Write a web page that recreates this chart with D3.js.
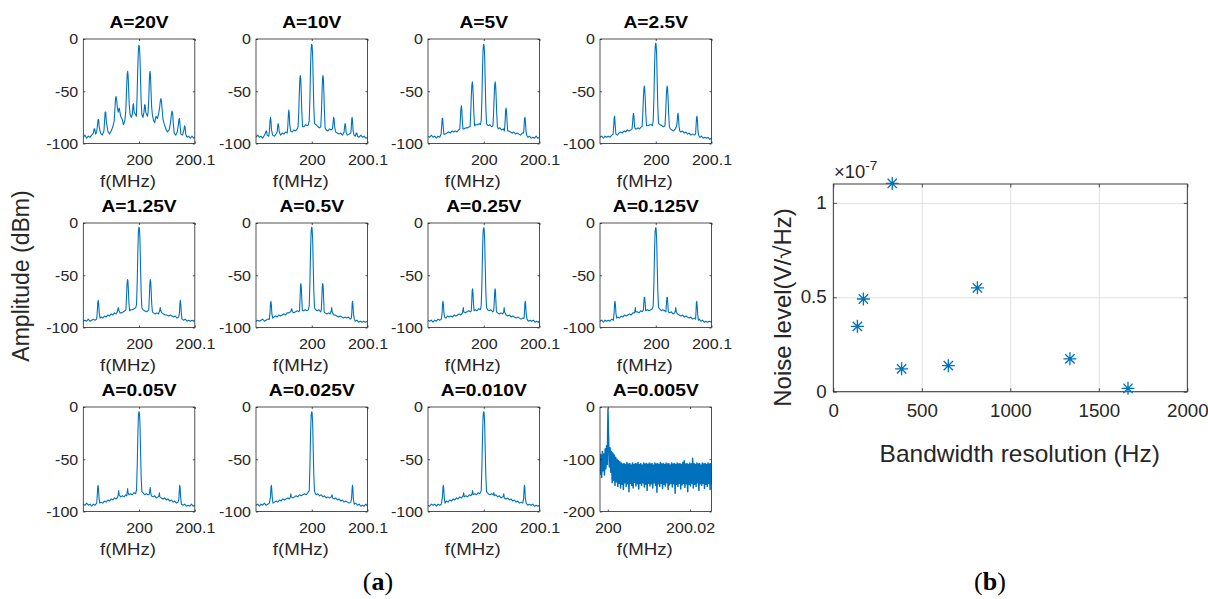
<!DOCTYPE html>
<html>
<head>
<meta charset="utf-8">
<script src="https://cdn.jsdelivr.net/npm/d3@7"></script>
<style>
  body { margin: 0; background: #fff; }
  svg text { font-family: "Liberation Sans", Arial, sans-serif; }
</style>
</head>
<body>
<svg id="drawing_region" width="1208" height="599"></svg>
<script>
// ---- data ----
const panelTitles = ['A=20V', 'A=10V', 'A=5V', 'A=2.5V', 'A=1.25V', 'A=0.5V',
                     'A=0.25V', 'A=0.125V', 'A=0.05V', 'A=0.025V', 'A=0.010V', 'A=0.005V'];

// spectra: [offset from 200 MHz in kHz, amplitude in dBm]
const spec20V = [[-100,-94],[-97,-92],[-94,-95],[-91,-93],[-88,-94],[-85,-92],[-82,-90],[-80.5,-86],[-79.5,-86],[-78,-91],[-76,-89],[-74.5,-82],[-73.5,-77],[-72.5,-77],[-71.5,-84],[-69,-90],[-66,-92],[-63,-88],[-61.8,-78],[-60.8,-70],[-59.8,-70],[-58.6,-79],[-56,-88],[-53,-91],[-50,-88],[-47,-84],[-44.5,-78],[-43.2,-66],[-42.2,-57],[-41.2,-55],[-40.2,-58],[-39,-65],[-37.5,-70],[-35.5,-66],[-33,-74],[-30,-77],[-28,-82],[-25.5,-78],[-24,-70],[-23,-58],[-22,-42],[-21.1,-33],[-20.4,-31],[-19.6,-35],[-18.7,-48],[-17.6,-63],[-16,-72],[-14,-75],[-12,-72],[-10.8,-63],[-10,-62],[-8.8,-70],[-6.5,-72],[-4.8,-74],[-3.5,-55],[-2.4,-30],[-1.3,-12],[-0.4,-6],[0.5,-7],[1.5,-15],[2.5,-35],[3.6,-58],[5,-72],[7,-75],[8.8,-70],[10,-63],[10.8,-63],[12,-70],[15,-74],[16.2,-70],[17.4,-58],[18.3,-42],[19.1,-33],[19.8,-31],[20.6,-36],[21.5,-50],[22.6,-65],[24,-73],[26,-78],[28,-80],[30.5,-74],[33,-76],[35,-72],[37,-65],[38.2,-59],[39.2,-57],[40.3,-60],[41.5,-68],[43,-77],[45,-81],[48,-86],[51,-89],[54,-87],[56.5,-80],[58,-72],[59.2,-69],[60.2,-71],[61.5,-81],[63,-90],[66,-92],[68.5,-89],[70.5,-82],[71.5,-77],[72.5,-76],[73.5,-82],[75,-91],[78,-92],[80.5,-87],[81.5,-83],[82.5,-84],[83.8,-91],[86,-94],[89,-93],[92,-95],[95,-93],[98,-95],[100,-94]];
const spec10V = [[-100,-94],[-97,-92],[-94,-94],[-91,-93],[-88,-95],[-85,-92],[-83,-90],[-82,-88],[-81,-88],[-80,-92],[-77,-93],[-75.8,-87],[-74.8,-78],[-74,-75],[-73.2,-78],[-72.2,-87],[-70,-92],[-67,-93],[-64,-91],[-62,-89],[-61,-83],[-60.2,-81],[-59.4,-83],[-58.3,-89],[-56,-92],[-53,-90],[-50,-91],[-47,-89],[-44,-90],[-43,-84],[-42,-73],[-41.2,-68],[-40.4,-71],[-39.4,-82],[-38,-88],[-35,-89],[-32,-87],[-29,-88],[-26,-86],[-24.5,-84],[-23.3,-70],[-22.3,-52],[-21.3,-38],[-20.5,-35],[-19.7,-38],[-18.8,-52],[-17.8,-70],[-16.5,-84],[-14,-84],[-11,-82],[-8,-83],[-6,-82],[-4.5,-78],[-3.2,-55],[-2.2,-28],[-1.2,-10],[-0.3,-5],[0.6,-6],[1.6,-16],[2.6,-40],[3.7,-65],[5,-81],[8,-82],[11,-84],[14,-85],[16.2,-84],[17.4,-70],[18.4,-52],[19.3,-38],[20.1,-35],[20.9,-38],[21.8,-52],[22.8,-70],[24,-85],[26,-87],[29,-88],[32,-86],[35,-87],[37,-86],[38.3,-80],[39.2,-75],[40,-76],[41,-84],[43,-89],[46,-90],[49,-91],[52,-90],[55,-92],[58,-89],[59.1,-83],[59.9,-81],[60.7,-83],[61.8,-90],[64,-92],[67,-91],[70,-90],[70.8,-86],[71.7,-77],[72.4,-75],[73.2,-79],[74.2,-88],[76,-92],[78,-93],[80,-90],[81,-90],[82,-93],[85,-94],[88,-92],[91,-94],[94,-93],[97,-95],[100,-94]];
const spec5V = [[-100,-93],[-97,-94],[-94,-92],[-91,-94],[-88,-93],[-85,-95],[-82,-93],[-79,-94],[-76.5,-91],[-75.3,-82],[-74.5,-76],[-73.7,-76],[-72.8,-83],[-71.5,-91],[-69,-91],[-66,-90],[-63,-89],[-60,-90],[-57,-88],[-54,-89],[-51,-88],[-48,-89],[-45,-87],[-43,-86],[-42,-78],[-41,-67],[-40.2,-64],[-39.4,-67],[-38.4,-78],[-37.2,-86],[-35,-86],[-32,-85],[-29,-85],[-26,-84],[-24.5,-84],[-23.3,-70],[-22.3,-55],[-21.3,-44],[-20.5,-41],[-19.7,-44],[-18.8,-55],[-17.8,-70],[-16.5,-83],[-14,-82],[-11,-82],[-8,-81],[-6,-82],[-4.5,-78],[-3.2,-55],[-2.2,-28],[-1.2,-10],[-0.3,-5],[0.6,-6],[1.6,-16],[2.6,-40],[3.7,-65],[5,-81],[8,-83],[11,-82],[14,-84],[16.5,-83],[17.7,-70],[18.7,-55],[19.7,-44],[20.5,-41],[21.3,-44],[22.2,-55],[23.2,-70],[24.5,-84],[26,-86],[29,-85],[32,-87],[35,-86],[37,-88],[38.2,-80],[39.2,-69],[40,-66],[40.8,-69],[41.8,-79],[43,-88],[45,-88],[48,-89],[51,-90],[54,-89],[57,-91],[60,-90],[63,-91],[66,-92],[69,-90],[71.5,-90],[72.4,-83],[73.2,-76],[74,-75],[74.8,-79],[75.8,-88],[77,-92],[79,-94],[82,-93],[85,-95],[88,-94],[91,-95],[94,-93],[97,-95],[100,-94]];
const spec2_5V = [[-100,-94],[-97,-93],[-94,-95],[-91,-93],[-88,-94],[-85,-93],[-82,-94],[-79,-92],[-76.5,-91],[-75.3,-82],[-74.5,-75],[-73.7,-74],[-72.8,-82],[-71.5,-91],[-69,-92],[-66,-90],[-63,-89],[-60,-90],[-57,-88],[-54,-89],[-51,-87],[-48,-88],[-45,-87],[-42.5,-86],[-41.5,-80],[-40.6,-73],[-39.8,-71],[-39,-75],[-38,-84],[-36.5,-86],[-34,-86],[-32,-85],[-29,-86],[-26,-84],[-24.5,-84],[-23.3,-72],[-22.3,-58],[-21.3,-48],[-20.5,-45],[-19.7,-48],[-18.8,-58],[-17.8,-72],[-16.5,-83],[-14,-83],[-11,-82],[-8,-82],[-6,-83],[-4.5,-78],[-3.2,-55],[-2.2,-28],[-1.2,-9],[-0.3,-4],[0.6,-5],[1.6,-15],[2.6,-40],[3.7,-65],[5,-81],[8,-82],[11,-83],[14,-84],[16.5,-83],[17.7,-72],[18.7,-58],[19.7,-48],[20.5,-45],[21.3,-48],[22.2,-58],[23.2,-72],[24.5,-84],[26,-86],[29,-87],[32,-88],[35,-86],[37,-84],[38.3,-80],[39.2,-73],[40,-71],[40.8,-75],[41.8,-84],[43,-88],[45,-89],[48,-88],[51,-90],[54,-89],[57,-91],[60,-90],[63,-92],[66,-91],[69,-92],[71.5,-91],[72.4,-82],[73.2,-75],[74,-74],[74.8,-78],[75.8,-88],[77,-92],[79,-94],[82,-93],[85,-95],[88,-94],[91,-95],[94,-94],[97,-96],[100,-95]];
const spec1_25V = [[-100,-94],[-97,-93],[-94,-94],[-91,-92],[-88,-94],[-85,-93],[-82,-92],[-79,-93],[-76,-92],[-74.8,-84],[-74,-76],[-73.2,-74],[-72.4,-77],[-71.4,-86],[-70,-91],[-68,-90],[-65,-91],[-62,-89],[-59,-90],[-56,-88],[-53,-89],[-50,-87],[-47,-88],[-44,-86],[-41,-87],[-39,-85],[-37.8,-82],[-37,-81],[-36,-84],[-34,-86],[-31,-86],[-28,-85],[-25,-84],[-23.5,-83],[-22.5,-70],[-21.6,-59],[-20.8,-54],[-20,-55],[-19.2,-63],[-18.2,-76],[-17,-84],[-15,-83],[-12,-83],[-9,-82],[-6,-81],[-4.5,-78],[-3.2,-55],[-2.2,-28],[-1.2,-9],[-0.3,-4],[0.6,-5],[1.6,-15],[2.6,-40],[3.7,-65],[5,-81],[7,-83],[10,-84],[13,-85],[16,-84],[17.4,-83],[18.4,-72],[19.3,-59],[20.1,-54],[20.9,-56],[21.8,-66],[22.8,-78],[24,-85],[26,-86],[29,-87],[32,-86],[35,-87],[37,-84],[38,-81],[39,-84],[41,-86],[44,-87],[47,-88],[50,-88],[53,-89],[56,-88],[59,-89],[62,-90],[65,-89],[68,-91],[71,-90],[72.5,-86],[73.3,-77],[74,-74],[74.8,-77],[75.8,-86],[77,-92],[80,-93],[83,-92],[86,-94],[89,-93],[92,-94],[95,-93],[98,-94],[100,-93]];
const spec0_5V = [[-100,-94],[-97,-93],[-94,-94],[-91,-93],[-88,-92],[-85,-94],[-82,-93],[-79,-92],[-76,-92],[-74.8,-85],[-74,-77],[-73.3,-75],[-72.5,-78],[-71.5,-87],[-70,-91],[-68,-90],[-65,-89],[-62,-90],[-59,-88],[-56,-89],[-53,-88],[-50,-87],[-47,-88],[-44,-86],[-41,-86],[-38,-85],[-36.8,-83],[-35.8,-82],[-34.8,-85],[-32,-86],[-29,-85],[-26,-84],[-23,-85],[-22,-84],[-21,-73],[-20.2,-61],[-19.5,-58],[-18.8,-61],[-17.9,-72],[-16.8,-84],[-15,-84],[-12,-83],[-9,-84],[-6,-83],[-4.5,-79],[-3.2,-55],[-2.2,-28],[-1.2,-9],[-0.3,-4],[0.6,-5],[1.6,-15],[2.6,-40],[3.7,-65],[5,-81],[7,-83],[10,-84],[13,-83],[16,-85],[17,-84],[18,-73],[18.9,-61],[19.7,-58],[20.5,-61],[21.3,-72],[22.3,-85],[24,-86],[27,-87],[30,-86],[33,-87],[35,-84],[35.8,-81],[36.6,-85],[39,-88],[42,-88],[45,-89],[48,-90],[51,-89],[54,-90],[57,-91],[60,-90],[63,-91],[66,-90],[69,-92],[71,-91],[71.8,-86],[72.5,-77],[73.2,-75],[74,-79],[75,-88],[76.5,-92],[78,-94],[81,-93],[84,-95],[87,-94],[90,-95],[93,-94],[96,-95],[100,-94]];
const spec0_25V = [[-100,-93],[-97,-94],[-94,-93],[-91,-95],[-88,-93],[-85,-94],[-82,-92],[-79,-93],[-76,-92],[-74.6,-85],[-73.8,-77],[-73.1,-75],[-72.3,-78],[-71.3,-87],[-70,-90],[-68,-91],[-65,-89],[-62,-90],[-59,-89],[-56,-90],[-53,-88],[-50,-89],[-47,-88],[-44,-87],[-41,-88],[-38,-86],[-37.3,-83],[-36.6,-81],[-35.8,-85],[-33,-86],[-30,-85],[-27,-84],[-24,-85],[-22.4,-84],[-21.5,-75],[-20.8,-65],[-20.1,-63],[-19.4,-66],[-18.5,-76],[-17.4,-84],[-15,-83],[-12,-84],[-9,-82],[-6,-83],[-4.5,-79],[-3.2,-55],[-2.2,-28],[-1.2,-9],[-0.3,-4.5],[0.6,-5],[1.6,-15],[2.6,-40],[3.7,-65],[5,-81],[7,-83],[10,-84],[13,-83],[16,-85],[17.8,-84],[18.8,-76],[19.6,-66],[20.3,-63],[21,-65],[21.8,-75],[22.8,-85],[25,-86],[28,-87],[31,-86],[34,-87],[35.8,-85],[36.6,-81],[37.4,-85],[40,-88],[43,-89],[46,-88],[49,-90],[52,-89],[55,-90],[58,-91],[61,-90],[64,-91],[67,-92],[70,-91],[72.3,-91],[73.1,-85],[73.8,-77],[74.5,-75],[75.2,-78],[76.2,-87],[77.5,-92],[80,-94],[83,-93],[86,-94],[89,-93],[92,-95],[95,-94],[98,-95],[100,-94]];
const spec0_125V = [[-100,-94],[-97,-93],[-94,-95],[-91,-93],[-88,-94],[-85,-93],[-82,-94],[-79,-92],[-76,-93],[-74.6,-85],[-73.8,-77],[-73.1,-75],[-72.3,-78],[-71.3,-87],[-70,-91],[-68,-90],[-65,-91],[-62,-89],[-59,-90],[-56,-88],[-53,-89],[-50,-88],[-47,-87],[-44,-88],[-41,-86],[-38,-86],[-37.3,-84],[-36.6,-81],[-35.8,-85],[-33,-85],[-30,-86],[-27,-84],[-24,-85],[-22.2,-83],[-21.3,-76],[-20.6,-71],[-19.9,-71],[-19.1,-76],[-18,-84],[-15,-83],[-12,-84],[-9,-83],[-6,-82],[-4.5,-79],[-3.2,-55],[-2.2,-28],[-1.2,-9],[-0.3,-4.5],[0.6,-5],[1.6,-15],[2.6,-40],[3.7,-65],[5,-81],[7,-82],[10,-84],[13,-83],[16,-84],[18.2,-85],[19.3,-76],[20.1,-71],[20.8,-71],[21.6,-77],[22.6,-85],[25,-86],[28,-85],[31,-87],[34,-86],[35.2,-84],[36,-81],[36.8,-85],[39,-87],[42,-88],[45,-89],[48,-88],[51,-90],[54,-89],[57,-90],[60,-91],[63,-90],[66,-92],[69,-91],[71.5,-92],[72.2,-85],[72.9,-76],[73.6,-75],[74.3,-79],[75.3,-88],[76.5,-93],[78,-92],[81,-94],[84,-93],[87,-95],[90,-94],[93,-95],[96,-94],[100,-95]];
const spec0_05V = [[-100,-93],[-97,-94],[-94,-92],[-91,-94],[-88,-93],[-85,-95],[-82,-93],[-79,-94],[-76,-92],[-75,-85],[-74.2,-77],[-73.5,-75],[-72.8,-78],[-71.8,-87],[-70.5,-92],[-68,-91],[-65,-92],[-62,-90],[-59,-91],[-56,-89],[-53,-90],[-50,-88],[-47,-89],[-44,-87],[-41,-88],[-38,-86],[-37.2,-83],[-36.5,-80],[-35.8,-84],[-33,-86],[-30,-85],[-27,-86],[-24,-84],[-22,-85],[-21.2,-81],[-20.5,-78],[-19.8,-82],[-18,-84],[-15,-83],[-12,-84],[-9,-82],[-6,-83],[-4.5,-79],[-3.2,-55],[-2.2,-28],[-1.2,-9],[-0.3,-4.7],[0.6,-5],[1.6,-15],[2.6,-40],[3.7,-65],[5,-81],[7,-82],[10,-84],[13,-83],[16,-84],[18,-84],[19.3,-80],[20,-77],[20.7,-81],[22,-85],[25,-86],[28,-85],[31,-87],[34,-86],[35.8,-85],[36.5,-82],[37.2,-86],[40,-87],[43,-88],[46,-87],[49,-89],[52,-88],[55,-90],[58,-89],[61,-91],[64,-90],[67,-92],[70,-91],[71.4,-88],[72.3,-79],[73,-75],[73.7,-77],[74.5,-86],[76,-93],[79,-94],[82,-93],[85,-95],[88,-94],[91,-95],[94,-93],[97,-95],[100,-94]];
const spec0_025V = [[-100,-94],[-97,-93],[-94,-95],[-91,-93],[-88,-94],[-85,-92],[-82,-94],[-79,-93],[-76,-92],[-74,-86],[-73.2,-77],[-72.5,-75],[-71.8,-78],[-70.8,-87],[-69.5,-92],[-67,-91],[-64,-90],[-61,-91],[-58,-89],[-55,-90],[-52,-88],[-49,-89],[-46,-88],[-43,-87],[-40,-88],[-38.3,-86],[-37.5,-83],[-36.7,-86],[-34,-87],[-31,-86],[-28,-85],[-25,-86],[-22,-84],[-19,-85],[-16,-84],[-13,-83],[-10,-84],[-7,-82],[-4.5,-80],[-3.2,-55],[-2.2,-28],[-1.2,-9],[-0.3,-4.7],[0.6,-5],[1.6,-15],[2.6,-40],[3.7,-65],[5,-81],[8,-84],[11,-83],[14,-85],[17,-84],[20,-86],[23,-85],[26,-87],[29,-86],[32,-87],[35,-86],[35.8,-85],[36.5,-84],[37.3,-87],[40,-88],[43,-87],[46,-89],[49,-88],[52,-90],[55,-89],[58,-91],[61,-90],[64,-91],[67,-92],[70,-91],[71.4,-88],[72.3,-79],[73,-75],[73.7,-77],[74.5,-87],[76,-93],[79,-92],[82,-94],[85,-93],[88,-95],[91,-94],[94,-95],[97,-93],[100,-95]];
const spec0_010V = [[-100,-94],[-97,-95],[-94,-93],[-91,-94],[-88,-93],[-85,-95],[-82,-93],[-79,-94],[-76,-93],[-74,-86],[-73.2,-77],[-72.5,-75],[-71.8,-78],[-70.8,-87],[-69.5,-92],[-67,-90],[-64,-91],[-61,-89],[-58,-90],[-55,-88],[-52,-89],[-49,-87],[-46,-88],[-43,-86],[-40,-87],[-37,-85],[-36,-82],[-35,-86],[-32,-85],[-29,-86],[-26,-84],[-23,-85],[-21,-83],[-20,-80],[-19,-84],[-16,-83],[-13,-84],[-10,-82],[-7,-83],[-4.5,-80],[-3.2,-55],[-2.2,-28],[-1.2,-9],[-0.3,-4.7],[0.6,-5],[1.6,-15],[2.6,-40],[3.7,-65],[5,-81],[8,-83],[11,-84],[14,-83],[17,-84],[18,-82],[19,-85],[22,-84],[25,-86],[28,-85],[31,-87],[34,-86],[35.2,-85],[36,-83],[36.8,-87],[40,-88],[43,-87],[46,-89],[49,-88],[52,-90],[55,-89],[58,-91],[61,-90],[64,-92],[67,-91],[70,-92],[71.4,-88],[72.3,-79],[73,-75],[73.7,-77],[74.5,-87],[76,-92],[79,-94],[82,-93],[85,-94],[88,-93],[91,-95],[94,-94],[97,-95],[100,-94]];
const spectra = [spec20V, spec10V, spec5V, spec2_5V, spec1_25V, spec0_5V,
                 spec0_25V, spec0_125V, spec0_05V, spec0_025V, spec0_010V];
const freqTicks = [200, 200.1];
const ampTicks = [-100, -50, 0];

// A=0.005V: fine-bin FFT, one value per bin starting at bandStartMHz
const bandStartMHz = 199.998, bandStepMHz = 0.00017;
const band0_005V = [-88,-128,-92,-135,-85,-122,-90,-130,-80,-118,-74,-110,-4,-68,-115,-78,-125,-85,-145,-88,-140,-92,-150,-96,-143,-100,-152,-103,-146,-105,-155,
  -107,-148,-109,-158,-108,-145,-110,-152,-106,-147,-109,-162,-108,-146,-111,-150,-107,-155,-110,-144,
  -108,-151,-109,-147,-106,-157,-110,-146,-108,-150,-111,-145,-107,-153,-109,-148,-108,-160,-110,-146,
  -107,-151,-109,-147,-108,-155,-111,-145,-107,-150,-109,-163,-108,-147,-110,-152,-106,-146,-109,-156,
  -108,-148,-110,-151,-107,-145,-109,-158,-108,-149,-111,-146,-107,-153,-109,-147,-108,-165,-110,-148,
  -107,-152,-109,-146,-108,-157,-110,-149,-106,-146,-103,-154,-109,-147,-108,-162,-110,-148,-107,-151,
  -109,-146,-98,-155,-108,-148,-110,-152,-107,-145,-109,-160,-108,-147,-111,-150,-107,-146,-109,-156,
  -108,-148,-110,-152,-107,-146,-109,-158,-108,-149];
const bandFreqTicks = [200, 200.02];
const bandAmpTicks = [-200, -100, 0];

// (b) noise level vs bandwidth resolution
const bwRes = [136, 170, 333, 386, 650, 814, 1337, 1665];
const noiseLevel = [0.346, 0.491, 1.103, 0.121, 0.138, 0.550, 0.174, 0.018]; // x 1e-7
const bwTicks = [0, 500, 1000, 1500, 2000];
const noiseTicks = [0, 0.5, 1];

// ---- drawing ----
const BLUE = '#0072BD', INK = '#262626';
const svg = d3.select('#drawing_region');

const colX = [83.3, 256, 428, 600], rowY = [39, 223, 407];
const pw = 111.5, ph = 104.5;

function hText(parent, x, y, str, size, sx, anchor) {
    return parent.append('text')
        .attr('transform', `translate(${x},${y}) scale(${sx},1)`)
        .attr('text-anchor', anchor || 'middle')
        .attr('fill', INK)
        .style('font-size', size + 'px')
        .text(str);
}

function styleAxis(sel, size, sx) {
    sel.attr('font-family', null).attr('font-size', null);
    sel.select('.domain').remove();
    sel.selectAll('.tick line').attr('stroke', INK).attr('stroke-width', 0.8);
    sel.selectAll('.tick text')
        .attr('fill', INK)
        .style('font-size', size + 'px')
        .attr('transform', `scale(${sx},1)`);
}

function drawPanel(i, points, xDomain, xTicks, yDomain, yTicks, lw) {
    const g = svg.append('g')
        .attr('transform', `translate(${colX[i % 4]},${rowY[Math.floor(i / 4)]})`);
    const x = d3.scaleLinear().domain(xDomain).range([0, pw]);
    const y = d3.scaleLinear().domain(yDomain).range([ph, 0]);

    g.append('clipPath').attr('id', 'clip' + i)
        .append('rect').attr('width', pw).attr('height', ph);

    g.append('path')
        .datum(points)
        .attr('clip-path', `url(#clip${i})`)
        .attr('fill', 'none')
        .attr('stroke', BLUE)
        .attr('stroke-width', lw)
        .attr('stroke-linejoin', 'round')
        .attr('d', d3.line().x(d => x(d[0])).y(d => y(d[1])));

    g.append('g').attr('transform', `translate(0,${ph})`)
        .call(d3.axisBottom(x).tickValues(xTicks).tickSizeInner(-2).tickSizeOuter(0)
            .tickPadding(10.9).tickFormat(d => String(d)))
        .call(s => styleAxis(s, 15, 1.07));
    g.append('g')
        .call(d3.axisTop(x).tickValues(xTicks).tickSizeInner(-2).tickSizeOuter(0).tickFormat(''))
        .call(s => styleAxis(s, 15, 1));
    g.append('g')
        .call(d3.axisLeft(y).tickValues(yTicks).tickSizeInner(-2).tickSizeOuter(0)
            .tickPadding(4.7).tickFormat(d => String(d)))
        .call(s => styleAxis(s, 15, 1.07));
    g.append('g').attr('transform', `translate(${pw},0)`)
        .call(d3.axisRight(y).tickValues(yTicks).tickSizeInner(-2).tickSizeOuter(0).tickFormat(''))
        .call(s => styleAxis(s, 15, 1));

    g.append('rect')
        .attr('width', pw).attr('height', ph)
        .attr('fill', 'none').attr('stroke', INK).attr('stroke-width', 0.8);

    hText(g, pw / 2, -11, panelTitles[i], 16, 1.2).style('font-weight', 'bold').attr('fill', '#000');
    hText(g, pw / 2 - 11, ph + 43, 'f(MHz)', 17, 1.1);
}

spectra.forEach((spec, i) => {
    const pts = spec.map(d => [200 + d[0] / 1000, d[1]]);
    drawPanel(i, pts, [199.9, 200.1], freqTicks, [-100, 0], ampTicks, 1.1);
});

const bandPts = band0_005V.map((v, k) => [bandStartMHz + k * bandStepMHz, v]);
drawPanel(11, bandPts, [199.9981, 200.0252], bandFreqTicks, [-200, 0], bandAmpTicks, 1.5);

svg.append('text')
    .attr('transform', 'translate(29,276) rotate(-90)')
    .attr('text-anchor', 'middle')
    .attr('fill', INK)
    .style('font-size', '23px')
    .text('Amplitude (dBm)');

// ---- (b) scatter ----
const sx0 = 833.3, sy0 = 184, sw = 354, sh = 207.7;
const sg = svg.append('g').attr('transform', `translate(${sx0},${sy0})`);
const xs = d3.scaleLinear().domain([0, 2000]).range([0, sw]);
const ys = d3.scaleLinear().domain([0, 1.1]).range([sh, 0]);

sg.append('g').attr('transform', `translate(0,${sh})`)
    .call(d3.axisBottom(xs).tickValues(bwTicks).tickSizeInner(-sh).tickSizeOuter(0).tickFormat(''))
    .call(s => { s.select('.domain').remove(); s.selectAll('.tick line').attr('stroke', '#dfdfdf'); });
sg.append('g')
    .call(d3.axisLeft(ys).tickValues(noiseTicks).tickSizeInner(-sw).tickSizeOuter(0).tickFormat(''))
    .call(s => { s.select('.domain').remove(); s.selectAll('.tick line').attr('stroke', '#dfdfdf'); });

sg.append('g').attr('transform', `translate(0,${sh})`)
    .call(d3.axisBottom(xs).tickValues(bwTicks).tickSizeInner(-3.5).tickSizeOuter(0)
        .tickPadding(12.6).tickFormat(d => String(d)))
    .call(s => styleAxis(s, 17.5, 1.07));
sg.append('g')
    .call(d3.axisTop(xs).tickValues(bwTicks).tickSizeInner(-3.5).tickSizeOuter(0).tickFormat(''))
    .call(s => styleAxis(s, 17.5, 1));
sg.append('g')
    .call(d3.axisLeft(ys).tickValues(noiseTicks).tickSizeInner(-3.5).tickSizeOuter(0)
        .tickPadding(6.2).tickFormat(d => String(d)))
    .call(s => styleAxis(s, 17.5, 1.07));
sg.append('g').attr('transform', `translate(${sw},0)`)
    .call(d3.axisRight(ys).tickValues(noiseTicks).tickSizeInner(-3.5).tickSizeOuter(0).tickFormat(''))
    .call(s => styleAxis(s, 17.5, 1));

sg.append('rect')
    .attr('width', sw).attr('height', sh)
    .attr('fill', 'none').attr('stroke', INK).attr('stroke-width', 0.9);

// MATLAB-style '*' marker
const asterisk = {
    draw(ctx, size) {
        const r = Math.sqrt(size) / 2, d = r * 0.72;
        ctx.moveTo(-r, 0); ctx.lineTo(r, 0);
        ctx.moveTo(0, -r); ctx.lineTo(0, r);
        ctx.moveTo(-d, -d); ctx.lineTo(d, d);
        ctx.moveTo(-d, d); ctx.lineTo(d, -d);
    }
};
sg.selectAll('path.marker')
    .data(bwRes.map((b, k) => [b, noiseLevel[k]]))
    .join('path')
    .attr('class', 'marker')
    .attr('transform', d => `translate(${xs(d[0])},${ys(d[1])})`)
    .attr('d', d3.symbol().type(asterisk).size(169))
    .attr('fill', 'none')
    .attr('stroke', BLUE)
    .attr('stroke-width', 1.3);

const expo = hText(svg, 834, 178, '×10', 17.5, 1.05, 'start');
expo.append('tspan').attr('dy', -8).style('font-size', '13px').text('-7');

hText(svg, 1019.7, 461.7, 'Bandwidth resolution (Hz)', 24, 1.02);

svg.append('text')
    .attr('transform', 'translate(791,307.5) rotate(-90)')
    .attr('text-anchor', 'middle')
    .attr('fill', INK)
    .style('font-size', '24px')
    .text('Noise level(V/√Hz)');

// sub-figure labels
[['a', 378], ['b', 990]].forEach(([lab, cx]) => {
    const t = svg.append('text')
        .attr('x', cx).attr('y', 590)
        .attr('text-anchor', 'middle')
        .attr('fill', '#000')
        .style('font-family', '"Liberation Serif", "Times New Roman", serif')
        .style('font-size', '26px');
    t.append('tspan').text('(');
    t.append('tspan').style('font-weight', 'bold').text(lab);
    t.append('tspan').text(')');
});
</script>
</body>
</html>
